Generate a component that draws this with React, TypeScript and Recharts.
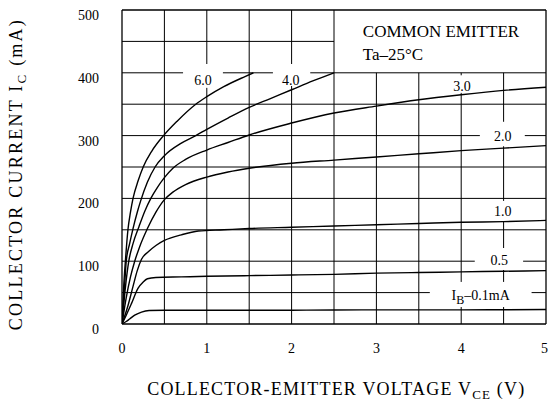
import React from "react";
import {
  LineChart,
  Line,
  XAxis,
  YAxis,
  ReferenceLine,
  ReferenceDot,
} from "recharts";

// ---- data: [V_CE (V), I_C (mA)] ----
const ib01: [number, number][] = [
  [0, 0], [0.05, 4], [0.09, 8], [0.15, 14], [0.23, 19], [0.32, 21.5], [0.5, 22],
  [1, 22], [2, 22], [3, 22.5], [4, 22.5], [5, 23],
];
const ib05: [number, number][] = [
  [0, 0], [0.05, 14], [0.11, 32], [0.19, 57], [0.25, 67], [0.3, 72], [0.4, 74],
  [0.7, 75], [1, 76], [1.5, 77], [2, 78], [2.5, 79], [3, 81], [3.5, 82], [4, 83],
  [4.5, 84], [5, 85],
];
const ib10: [number, number][] = [
  [0, 0], [0.07, 29], [0.13, 60], [0.18, 85], [0.23, 103], [0.31, 115], [0.4, 125],
  [0.5, 133], [0.7, 142], [0.9, 148], [1.2, 150], [1.5, 152], [2, 154], [2.5, 156],
  [3, 158], [3.5, 160], [4, 162], [4.5, 163], [5, 165],
];
const ib20: [number, number][] = [
  [0, 0], [0.05, 42], [0.1, 75], [0.15, 100], [0.2, 120], [0.3, 152], [0.4, 178],
  [0.5, 198], [0.6, 210], [0.75, 222], [1, 234], [1.25, 242], [1.5, 248], [2, 256],
  [2.5, 261], [3, 266], [3.5, 271], [4, 276], [4.5, 280], [5, 284],
];
const ib30: [number, number][] = [
  [0, 0], [0.04, 58], [0.08, 100], [0.13, 128], [0.2, 155], [0.27, 180], [0.34, 200],
  [0.42, 218], [0.5, 233], [0.6, 248], [0.75, 262], [1, 277], [1.25, 289], [1.5, 301],
  [2, 320], [2.5, 336], [3, 347], [3.5, 357], [4, 365], [4.5, 372], [5, 377],
];
const ib40: [number, number][] = [
  [0, 0], [0.03, 60], [0.05, 100], [0.09, 128], [0.13, 152], [0.18, 178], [0.22, 196],
  [0.3, 226], [0.39, 250], [0.5, 268], [0.7, 288], [0.87, 300], [1, 310], [1.25, 328],
  [1.5, 345], [1.75, 359], [2, 373], [2.25, 387], [2.5, 400],
];
const ib60: [number, number][] = [
  [0, 0], [0.02, 60], [0.04, 100], [0.07, 150], [0.1, 178], [0.13, 200], [0.19, 228],
  [0.25, 250], [0.35, 275], [0.49, 300], [0.65, 323], [0.87, 350], [1, 362],
  [1.2, 378], [1.45, 394], [1.55, 400],
];

const seriesList = [ib01, ib05, ib10, ib20, ib30, ib40, ib60];

const xTicks = [0, 1, 2, 3, 4, 5];
const yTicks = [0, 100, 200, 300, 400, 500];
const xDomain: [number, number] = [0, 5];
const yDomain: [number, number] = [0, 500];

// grid lines (every 0.5 V, every 50 mA) with gaps around the curve labels;
// the upper-right legend box (V > 2.5, I > 400) is kept clear
const legendBoxV = 2.5;
const legendBoxI = 400;
const vGrid: { v: number; gaps: [number, number][] }[] = [
  { v: 0.5, gaps: [] },
  { v: 1, gaps: [[376, 414]] },
  { v: 1.5, gaps: [] },
  { v: 2, gaps: [[379, 414]] },
  { v: 2.5, gaps: [] },
  { v: 3, gaps: [] },
  { v: 3.5, gaps: [] },
  { v: 4, gaps: [[27, 67], [368, 396]] },
  { v: 4.5, gaps: [[27, 67], [86, 121], [164, 196], [283, 322]] },
];
const hGrid: { i: number; gaps: [number, number][] }[] = [
  { i: 50, gaps: [[3.63, 4.83]] },
  { i: 100, gaps: [[4.16, 4.73]] },
  { i: 150, gaps: [] },
  { i: 200, gaps: [] },
  { i: 250, gaps: [] },
  { i: 300, gaps: [[4.22, 4.75]] },
  { i: 350, gaps: [] },
  { i: 400, gaps: [[0.72, 1.19], [1.78, 2.22]] },
  { i: 450, gaps: [] },
];

// curve labels
const curveLabels: { text: string; v: number; i: number; sub?: boolean }[] = [
  { text: "6.0", v: 0.955, i: 389 },
  { text: "4.0", v: 1.99, i: 389 },
  { text: "3.0", v: 4.01, i: 379 },
  { text: "2.0", v: 4.49, i: 300 },
  { text: "1.0", v: 4.49, i: 180 },
  { text: "0.5", v: 4.45, i: 102 },
  { text: "–0.1mA", v: 4.23, i: 46, sub: true },
];

const legendLines: { text: string; v: number; i: number }[] = [
  { text: "COMMON EMITTER", v: 2.84, i: 457 },
  { text: "Ta–25°C", v: 2.84, i: 420 },
];

// axis-title anchor points (outside the plotted range, placed through the scales)
const xTitleAt = { v: 2.52, i: -113 };
const yTitleAt = { v: -1.185, i: 237 };

const FONT = '"Liberation Serif", "Times New Roman", serif';

const toPts = (arr: [number, number][]) => arr.map(([v, i]) => ({ v, i }));

const splitRange = (lo: number, hi: number, gaps: [number, number][]) => {
  const pieces: [number, number][] = [];
  let start = lo;
  [...gaps].sort((a, b) => a[0] - b[0]).forEach(([g0, g1]) => {
    if (g0 > start) pieces.push([start, Math.min(g0, hi)]);
    start = Math.max(start, g1);
  });
  if (start < hi) pieces.push([start, hi]);
  return pieces;
};

const makeLabelShape = (lab: (typeof curveLabels)[number]) => (props: any) => {
  const { cx, cy } = props;
  return lab.sub ? (
    <text x={cx} y={cy} dy={5} textAnchor="middle" fontFamily={FONT} fontSize={14} fill="#000">
      I
      <tspan fontSize={12} dy={4}>B</tspan>
      <tspan dy={-4}>{lab.text}</tspan>
    </text>
  ) : (
    <text x={cx} y={cy} dy={5} textAnchor="middle" fontFamily={FONT} fontSize={14} fill="#000">
      {lab.text}
    </text>
  );
};

const makeLegendShape = (text: string) => (props: any) => {
  const { cx, cy } = props;
  return (
    <text x={cx} y={cy} textAnchor="start" fontFamily={FONT} fontSize={17} fill="#000">
      {text}
    </text>
  );
};

const xTitleShape = (props: any) => {
  const { cx, cy } = props;
  return (
    <text
      x={cx}
      y={cy}
      textAnchor="middle"
      fontFamily={FONT}
      fontSize={18}
      fill="#000"
      textLength={377}
      lengthAdjust="spacing"
    >
      COLLECTOR-EMITTER VOLTAGE V
      <tspan fontSize={13} dy={4}>CE</tspan>
      <tspan dy={-4}> (V)</tspan>
    </text>
  );
};

const yTitleShape = (props: any) => {
  const { cx, cy } = props;
  return (
    <text
      x={cx}
      y={cy}
      transform={`rotate(-90 ${cx} ${cy})`}
      textAnchor="middle"
      fontFamily={FONT}
      fontSize={18}
      fill="#000"
      textLength={310}
      lengthAdjust="spacing"
    >
      COLLECTOR CURRENT I
      <tspan fontSize={13} dy={4}>C</tspan>
      <tspan dy={-4}> (mA)</tspan>
    </text>
  );
};

export default function App() {
  const vSegs: { key: string; v: number; a: number; b: number }[] = [];
  vGrid.forEach((g) => {
    const top = g.v > legendBoxV ? legendBoxI : yDomain[1];
    splitRange(yDomain[0], top, g.gaps).forEach(([a, b], k) =>
      vSegs.push({ key: `v${g.v}-${k}`, v: g.v, a, b })
    );
  });
  const hSegs: { key: string; i: number; a: number; b: number }[] = [];
  hGrid.forEach((g) => {
    const right = g.i > legendBoxI ? legendBoxV : xDomain[1];
    splitRange(xDomain[0], right, g.gaps).forEach(([a, b], k) =>
      hSegs.push({ key: `h${g.i}-${k}`, i: g.i, a, b })
    );
  });

  return (
    <div style={{ position: "absolute", left: 0, top: 0, width: 548, height: 405, background: "#fff" }}>
      <LineChart width={548} height={405} margin={{ top: 10, right: 2, bottom: 0, left: 0 }}>
        <XAxis
          type="number"
          dataKey="v"
          domain={xDomain}
          ticks={xTicks}
          height={81}
          axisLine={false}
          tickLine={false}
          tickMargin={13}
          tick={{ fontFamily: FONT, fontSize: 14, fill: "#000" }}
          allowDataOverflow
        />
        <YAxis
          type="number"
          dataKey="i"
          domain={yDomain}
          ticks={yTicks}
          width={122}
          axisLine={false}
          tickLine={false}
          tickMargin={17}
          tick={{ fontFamily: FONT, fontSize: 14, fill: "#000", dy: 5 }}
          allowDataOverflow
        />
        {vSegs.map((s) => (
          <ReferenceLine
            key={s.key}
            segment={[{ x: s.v, y: s.a }, { x: s.v, y: s.b }]}
            stroke="#000"
            strokeWidth={1}
          />
        ))}
        {hSegs.map((s) => (
          <ReferenceLine
            key={s.key}
            segment={[{ x: s.a, y: s.i }, { x: s.b, y: s.i }]}
            stroke="#000"
            strokeWidth={1}
          />
        ))}
        <ReferenceLine x={xDomain[0]} stroke="#000" strokeWidth={1.3} />
        <ReferenceLine x={xDomain[1]} stroke="#000" strokeWidth={1.3} />
        <ReferenceLine y={yDomain[0]} stroke="#000" strokeWidth={1.3} />
        <ReferenceLine y={yDomain[1]} stroke="#000" strokeWidth={1.3} />
        {curveLabels.map((lab) => (
          <ReferenceDot key={lab.text} x={lab.v} y={lab.i} r={0} shape={makeLabelShape(lab)} />
        ))}
        {legendLines.map((l) => (
          <ReferenceDot key={l.text} x={l.v} y={l.i} r={0} shape={makeLegendShape(l.text)} />
        ))}
        <ReferenceDot x={xTitleAt.v} y={xTitleAt.i} r={0} ifOverflow="visible" shape={xTitleShape} />
        <ReferenceDot x={yTitleAt.v} y={yTitleAt.i} r={0} ifOverflow="visible" shape={yTitleShape} />
        {seriesList.map((s, idx) => (
          <Line
            key={idx}
            data={toPts(s)}
            dataKey="i"
            type="monotone"
            stroke="#000"
            fill="none"
            strokeWidth={1.4}
            dot={false}
            isAnimationActive={false}
          />
        ))}
      </LineChart>
    </div>
  );
}
